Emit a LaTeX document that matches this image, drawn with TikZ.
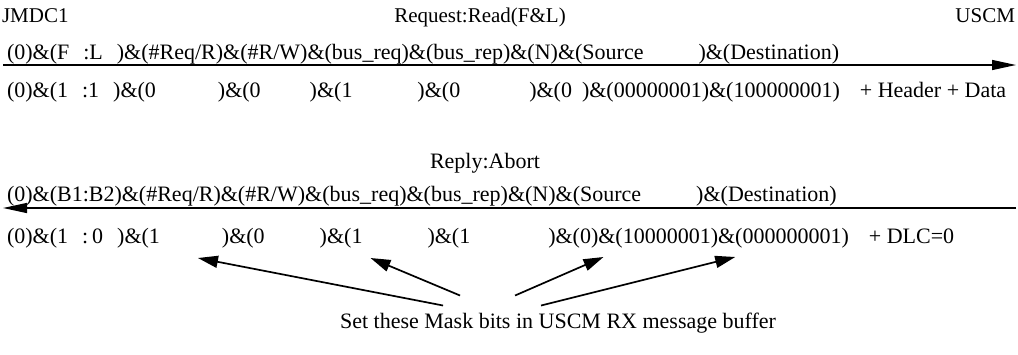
\documentclass[tikz,border=0pt]{standalone}
\usepackage{fontspec}
\setmainfont{Liberation Serif}
\usetikzlibrary{arrows.meta}
\begin{document}
\begin{tikzpicture}[x=1pt,y=-1pt,
  every node/.style={inner sep=0pt,outer sep=0pt,font=\fontsize{22}{26}\selectfont},
  seg/.style={anchor=base west},
  head/.style={font=\fontsize{21}{25}\selectfont},
  msg/.style={line width=1.3pt,-{Triangle[length=24pt,width=10pt]}},
  mask/.style={line width=1.7pt,-{Triangle[length=20pt,width=12pt]}}]
\useasboundingbox (0,0) rectangle (1018,354);

% headers
\node[seg,head] (jmdc) at (2,22) {JMDC1};
\node[anchor=base,head] (req) at (480,22) {Request:Read(F\&L)};
\node[anchor=base east,head] (uscm) at (1015,22) {USCM};

% request frame
\node[seg] (r1) at (7,59) {(0)\&(F\hspace{14pt}:L\hspace{14pt})\&(\#Req/R)\&(\#R/W)\&(bus\_req)\&(bus\_rep)\&(N)\&(Source\hspace{55pt})\&(Destination)};
\coordinate (l1a) at (3,65);
\coordinate (l1b) at (1016,65);
\draw[msg] (l1a) -- (l1b);
\node[seg] (r2) at (7,97) {(0)\&(1\hspace{14pt}:1\hspace{14pt})\&(0\hspace{62pt})\&(0\hspace{49pt})\&(1\hspace{65pt})\&(0\hspace{69pt})\&(0\hspace{10pt})\&(00000001)\&(100000001)\hspace{20pt}+ Header + Data};

% reply frame
\node[anchor=base] (rep) at (485,168) {Reply:Abort};
\node[seg] (r3) at (7,201) {(0)\&(B1:B2)\&(\#Req/R)\&(\#R/W)\&(bus\_req)\&(bus\_rep)\&(N)\&(Source\hspace{55pt})\&(Destination)};
\coordinate (l2a) at (3,208);
\coordinate (l2b) at (1016,208);
\draw[msg] (l2b) -- (l2a);

% reply values, split so the mask arrows can point at fields
\node[seg] (r4a) at (7,243) {(0)\&(1};
\node[seg] (r4b) at ([xshift=14pt]r4a.base east) {:\hspace{4pt}0};
\node[seg] (r4c) at ([xshift=14pt]r4b.base east) {)\&(1};
\node[seg] (r4d) at ([xshift=62pt]r4c.base east) {)\&(0};
\node[seg] (r4e) at ([xshift=55pt]r4d.base east) {)\&(1};
\node[seg] (r4f) at ([xshift=65pt]r4e.base east) {)\&(1};
\node[seg] (r4g) at ([xshift=78pt]r4f.base east) {)\&(0)\&};
\node[seg] (r4h) at (r4g.base east) {(10000001)};
\node[seg] (r4i) at (r4h.base east) {\&};
\node[seg] (r4j) at (r4i.base east) {(000000001)};
\node[seg] (r4k) at ([xshift=20pt]r4j.base east) {+ DLC=0};

% mask note
\node[anchor=base] (bot) at (558,328) {Set these Mask bits in USCM RX message buffer};
\coordinate (s1) at ([xshift=103pt,yshift=7pt]bot.north west);
\coordinate (s2) at ([xshift=120pt,yshift=17pt]bot.north west);
\coordinate (s3) at ([xshift=175pt,yshift=17pt]bot.north west);
\coordinate (s4) at ([xshift=201pt,yshift=7pt]bot.north west);
\coordinate (t1) at ([xshift=38pt,yshift=-15pt]r4c.base east);
\coordinate (t2) at ([xshift=8pt,yshift=-15pt]r4e.base east);
\coordinate (t3) at ([xshift=-12pt,yshift=-14pt]r4h.base west);
\coordinate (t4) at ([xshift=0pt,yshift=-14pt]r4j.base west);
\draw[mask] (s1) -- (t1);
\draw[mask] (s2) -- (t2);
\draw[mask] (s3) -- (t3);
\draw[mask] (s4) -- (t4);
\end{tikzpicture}
\end{document}
